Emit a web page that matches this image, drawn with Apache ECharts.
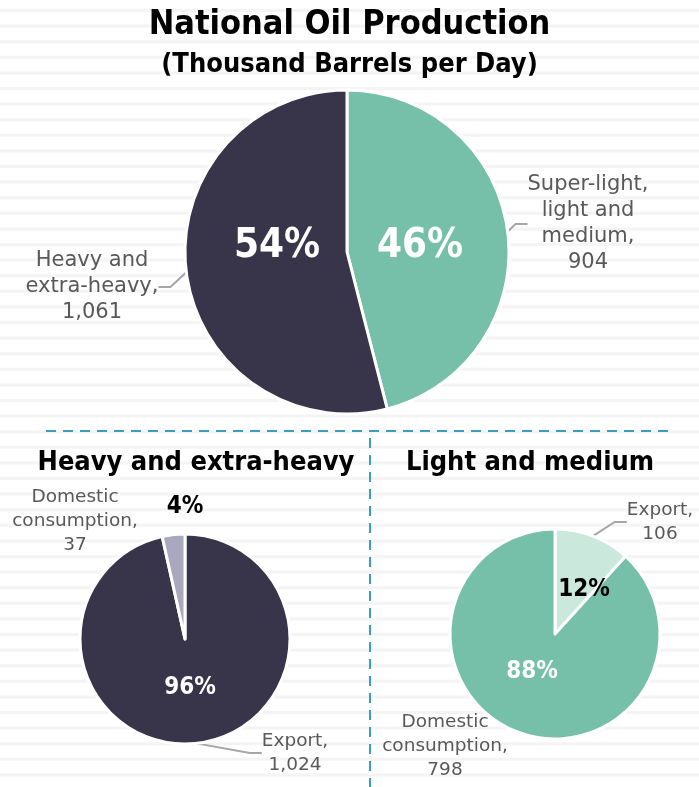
<!DOCTYPE html>
<html>
<head>
<meta charset="utf-8">
<script src="https://cdn.jsdelivr.net/npm/echarts@6/dist/echarts.min.js"></script>
<style>
html,body{margin:0;padding:0;background:#fff}
#chart{width:699px;height:787px}
</style>
</head>
<body>
<div id="chart"></div>
<script>
const FONT = '"DejaVu Sans Condensed", "DejaVu Sans", sans-serif';
const LFONT = '"DejaVu Sans", sans-serif';

// national production (thousand barrels per day)
const mainNames = ['Super-light,\nlight and\nmedium', 'Heavy and\nextra-heavy'];
const mainVals = [904, 1061];
const mainPct = [46, 54];
// heavy and extra-heavy split
const heavyNames = ['Export', 'Domestic\nconsumption'];
const heavyVals = [1024, 37];
const heavyPct = [96, 4];
// light and medium split
const lightNames = ['Export', 'Domestic\nconsumption'];
const lightVals = [106, 798];
const lightPct = [12, 88];

const DARK = '#38354a', GREEN = '#76bfa8', LILAC = '#aaa8be', MINT = '#cbe8dd';
const GREY_TXT = '#595959', LINE = '#a6a6a6';

let chart = echarts.init(document.getElementById('chart'));

function fmt(v){ return v.toLocaleString('en-US'); }

//背景横条纹
let stripes = [];
for (let y = 9; y < 787; y += 15.6) {
    stripes.push({type:'rect', silent:true, z:-10,
        shape:{x:0, y:y, width:699, height:3}, style:{fill:'#f4f4f4'}});
}
//蓝色虚线分隔
let dash = {stroke:'#3b9cc6', lineWidth:2, lineDash:[10,7]};
stripes.push({type:'line', silent:true, shape:{x1:46, y1:431, x2:668, y2:431}, style:dash});
stripes.push({type:'line', silent:true, shape:{x1:370, y1:438, x2:370, y2:787}, style:dash});

// 饼图数据
function items(names, vals, colors){
    let out = [];
    for (let i in vals) out.push({name:names[i], value:vals[i], itemStyle:{color:colors[i]}});
    return out;
}

//百分比标签(内部)
function pctSeries(center, r, names, vals, colors, pct, size, pos, extra){
    let data = items(names, vals, colors);
    for (let i in data) {
        data[i].label = {formatter: pct[i] + '%'};
        if (extra && extra[i]) Object.assign(data[i].label, extra[i]);
    }
    return {
        type:'pie', center:center, radius:r, startAngle:90, clockwise:true,
        silent:true, animation:false,
        itemStyle:{borderColor:'#fff', borderWidth:3},
        label:{position:'inside', color:'#fff', fontSize:size, fontWeight:'bold', fontFamily:FONT},
        labelLine:{show:false},
        labelLayout: function(p){
            let q = pos[p.dataIndex];
            return {x:q[0], y:q[1], align:'center', verticalAlign:'middle'};
        },
        data:data
    };
}

//类别名称标签(外部)
function nameSeries(center, r, names, vals, pos, lh, size, noLine){
    let data = items(names, vals, vals.map(() => 'rgba(0,0,0,0)'));
    for (let i in data) {
        if (noLine && noLine[i]) data[i].labelLine = {show:false};
    }
    return {
        type:'pie', center:center, radius:r, startAngle:90, clockwise:true,
        silent:true, animation:false,
        itemStyle:{borderWidth:0},
        label:{position:'outside', color:GREY_TXT, fontSize:size, lineHeight:lh, fontFamily:LFONT,
            align:'center',
            formatter: p => p.name + ',\n' + fmt(p.value)},
        labelLine:{show:true, length:15, length2:12, lineStyle:{color:LINE, width:2}},
        labelLayout: function(p){
            let q = pos[p.dataIndex];
            return {x:q[0], y:q[1], align:'center', verticalAlign:'middle'};
        },
        data:data
    };
}

let tstyle = (s) => ({fontFamily:FONT, fontSize:s, fontWeight:'bold', color:'#000'});

let option = {
    backgroundColor:'#fff',
    title:[
        {text:'National Oil Production', left:'center', top:8, padding:0, textStyle:tstyle(34)},
        {text:'(Thousand Barrels per Day)', left:'center', top:51, padding:0, textStyle:tstyle(27)},
        {text:'Heavy and extra-heavy', left:196, textAlign:'center', top:449, padding:0, textStyle:tstyle(27)},
        {text:'Light and medium', left:530, textAlign:'center', top:449, padding:0, textStyle:tstyle(27)}
    ],
    graphic:stripes,
    series:[
        pctSeries([347,252], 162, mainNames, mainVals, [GREEN, DARK], mainPct, 40, [[420,247],[277,247]]),
        nameSeries([347,252], 162, mainNames, mainVals, [[588,224],[92,287]], 26, 21),
        pctSeries([185,639], 105, heavyNames, heavyVals, [DARK, LILAC], heavyPct, 24, [[190,688],[185,507]],
            [null, {position:'outside', color:'#000'}]),
        nameSeries([185,639], 105, heavyNames, heavyVals, [[295,753],[75,521]], 24, 18.5, [false,true]),
        pctSeries([555,634], 105, lightNames, lightVals, [MINT, GREEN], lightPct, 24, [[584,590],[532,672]],
            [{color:'#000'}, null]),
        nameSeries([555,634], 105, lightNames, lightVals, [[660,522],[445,746]], 24, 18.5, [false,true])
    ]
};
chart.setOption(option);
</script>
</body>
</html>
